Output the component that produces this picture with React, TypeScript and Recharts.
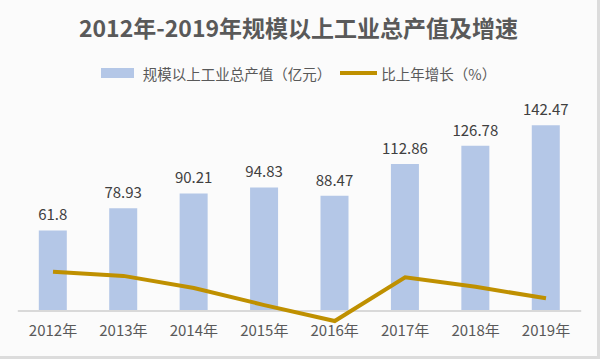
import React from "react";
import {
  ComposedChart,
  Bar,
  Line,
  XAxis,
  YAxis,
  Legend,
  LabelList,
  ReferenceLine,
} from "recharts";

const YEARS = ["2012年", "2013年", "2014年", "2015年", "2016年", "2017年", "2018年", "2019年"];
const OUTPUT = [61.8, 78.93, 90.21, 94.83, 88.47, 112.86, 126.78, 142.47];
const GROWTH = [14.0, 12.5, 8.2, 2.1, -3.6, 12.0, 8.6, 4.5];

const TITLE = "2012年-2019年规模以上工业总产值及增速";
const OUTPUT_NAME = "规模以上工业总产值（亿元）";
const GROWTH_NAME = "比上年增长（%）";

const data = YEARS.map((year, i) => ({
  year,
  output: OUTPUT[i],
  growth: GROWTH[i],
}));

const FONT = '"Noto Sans CJK SC", "Noto Sans", sans-serif';
const BAR_COLOR = "#B4C7E7";
const LINE_COLOR = "#BF9000";
const TEXT_COLOR = "#595959";

const LegendContent = (props: any) => {
  const payload = [...(props.payload || [])].sort(
    (a: any, b: any) => (a.type === "line" ? 1 : 0) - (b.type === "line" ? 1 : 0)
  );
  return (
    <div
      style={{
        display: "flex",
        justifyContent: "center",
        alignItems: "center",
        height: 22,
        fontFamily: FONT,
        fontSize: 14.5,
        color: TEXT_COLOR,
      }}
    >
      {payload.map((p: any, i: number) => (
        <div key={i} style={{ display: "flex", alignItems: "center", marginLeft: i === 0 ? 0 : 9 }}>
          {p.type === "line" ? (
            <div style={{ width: 37, height: 4, background: p.color, marginRight: 4 }} />
          ) : (
            <div style={{ width: 33, height: 10, background: p.color, marginRight: 9 }} />
          )}
          <span style={{ whiteSpace: "nowrap" }}>{p.value}</span>
        </div>
      ))}
    </div>
  );
};

export default function App() {
  return (
    <div
      style={{
        position: "absolute",
        left: 0,
        top: 0,
        width: 597,
        height: 356,
        background: "#fbfbfb",
        borderRight: "3px solid #dcdcdc",
        borderBottom: "3px solid #dcdcdc",
      }}
    >
      <div
        style={{
          position: "absolute",
          left: 0,
          top: 12,
          width: 597,
          textAlign: "center",
          fontFamily: FONT,
          fontWeight: 700,
          fontSize: 23,
          lineHeight: "30px",
          color: TEXT_COLOR,
        }}
      >
        {TITLE}
      </div>
      <ComposedChart
        width={597}
        height={356}
        data={data}
        margin={{ top: 80.5, right: 15.8, bottom: 1, left: 17.8 }}
        barCategoryGap={0}
      >
        <XAxis
          dataKey="year"
          axisLine={false}
          tickLine={false}
          tickSize={0}
          tickMargin={0}
          height={30}
          interval={0}
          tick={{ fontFamily: FONT, fontSize: 15, fill: TEXT_COLOR }}
        />
        <YAxis yAxisId="left" hide domain={[-10.74, 160]} />
        <YAxis yAxisId="right" hide orientation="right" domain={[-5, 74.3]} />
        <Legend
          verticalAlign="top"
          align="center"
          content={<LegendContent />}
          wrapperStyle={{ top: 62, left: 0, width: 597 }}
        />
        <Bar
          yAxisId="left"
          dataKey="output"
          name={OUTPUT_NAME}
          fill={BAR_COLOR}
          barSize={28}
          isAnimationActive={false}
          legendType="rect"
        >
          <LabelList
            dataKey="output"
            position="top"
            offset={10}
            style={{ fontFamily: FONT, fontSize: 15, fill: "#404040" }}
          />
        </Bar>
        <ReferenceLine yAxisId="left" y={0} stroke="#d9d9d9" strokeWidth={2} />
        <Line
          yAxisId="right"
          dataKey="growth"
          name={GROWTH_NAME}
          stroke={LINE_COLOR}
          strokeWidth={4}
          dot={false}
          activeDot={false}
          legendType="line"
          isAnimationActive={false}
        />
      </ComposedChart>
    </div>
  );
}
